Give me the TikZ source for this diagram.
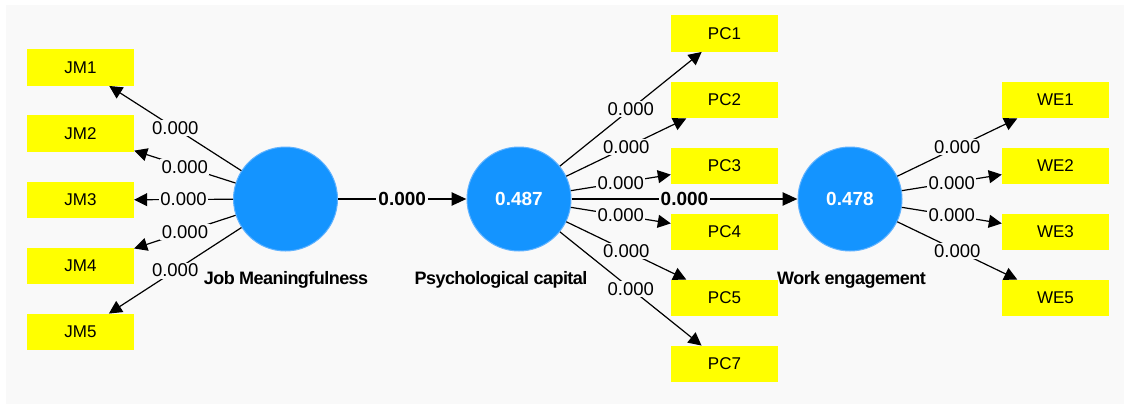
\documentclass[tikz,border=0pt]{standalone}
\usepackage{fontspec}
\setmainfont{Liberation Sans}
\newfontfamily\latfont[LetterSpace=-3]{Liberation Sans}
\usetikzlibrary{arrows.meta}
\definecolor{bgc}{HTML}{F9F9F9}
\definecolor{lvblue}{RGB}{20,148,255}
\definecolor{lvedge}{RGB}{95,178,255}
\definecolor{mvyellow}{RGB}{255,255,0}
\tikzset{
  lv/.style={circle, minimum size=104pt, inner sep=0pt, fill=lvblue, draw=lvedge, line width=1pt,
    text=white, font=\fontsize{19}{21}\selectfont\bfseries},
  mv/.style={rectangle, minimum width=107pt, minimum height=36.5pt, inner sep=0pt, fill=mvyellow,
    font=\fontsize{17}{19}\selectfont},
  latname/.style={font=\latfont\fontsize{18}{20}\selectfont\bfseries, inner sep=0pt},
  load/.style={line width=1.2pt, -{Triangle[length=13pt,width=13pt]}},
  struct/.style={line width=2.6pt, -{Triangle[length=15pt,width=13pt]}},
  lab/.style={midway, fill=bgc, inner sep=1.5pt, font=\fontsize{18.5}{20}\selectfont},
  blab/.style={midway, fill=bgc, inner sep=2pt, font=\fontsize{19}{21}\selectfont\bfseries},
}
\begin{document}
\begin{tikzpicture}[x=1pt,y=-1pt]
\useasboundingbox (0,0) rectangle (1124,404);
\fill[white] (0,0) rectangle (1124,404);
\fill[bgc] (6,5) rectangle (1124,404);

% latent variables
\node[lv] (jm) at (285.5,199) {};
\node[lv] (pc) at (519,199) {0.487};
\node[lv] (we) at (850,199) {0.478};

\node[latname] (jmn) at (286,280) {Job Meaningfulness};
\node[latname] (pcn) at (501,280) {Psychological capital};
\node[latname] (wen) at (851.5,280) {Work engagement};

% indicators
\node[mv] (jm1) at (80.5,67.5) {JM1};
\node[mv] (jm2) at (80.5,133.5) {JM2};
\node[mv] (jm3) at (80.5,200) {JM3};
\node[mv] (jm4) at (80.5,266) {JM4};
\node[mv] (jm5) at (80.5,332) {JM5};

\node[mv] (pc1) at (724.5,33.5) {PC1};
\node[mv] (pc2) at (724.5,100) {PC2};
\node[mv] (pc3) at (724.5,166) {PC3};
\node[mv] (pc4) at (724.5,232) {PC4};
\node[mv] (pc5) at (724.5,298) {PC5};
\node[mv] (pc7) at (724.5,364) {PC7};

\node[mv] (we1) at (1055.5,100) {WE1};
\node[mv] (we2) at (1055.5,166) {WE2};
\node[mv] (we3) at (1055.5,232) {WE3};
\node[mv] (we5) at (1055.5,298) {WE5};

% structural paths
\draw[struct] (jm) -- (pc) node[blab] {0.000};
\draw[struct] (pc) -- (we) node[blab] {0.000};

% loadings
\foreach \i in {jm1,jm2,jm3,jm4,jm5}
  \draw[load] (jm) -- (\i) node[lab] {0.000};
\foreach \i in {pc1,pc2,pc3,pc4,pc5,pc7}
  \draw[load] (pc) -- (\i) node[lab] {0.000};
\foreach \i in {we1,we2,we3,we5}
  \draw[load] (we) -- (\i) node[lab] {0.000};
\end{tikzpicture}
\end{document}
